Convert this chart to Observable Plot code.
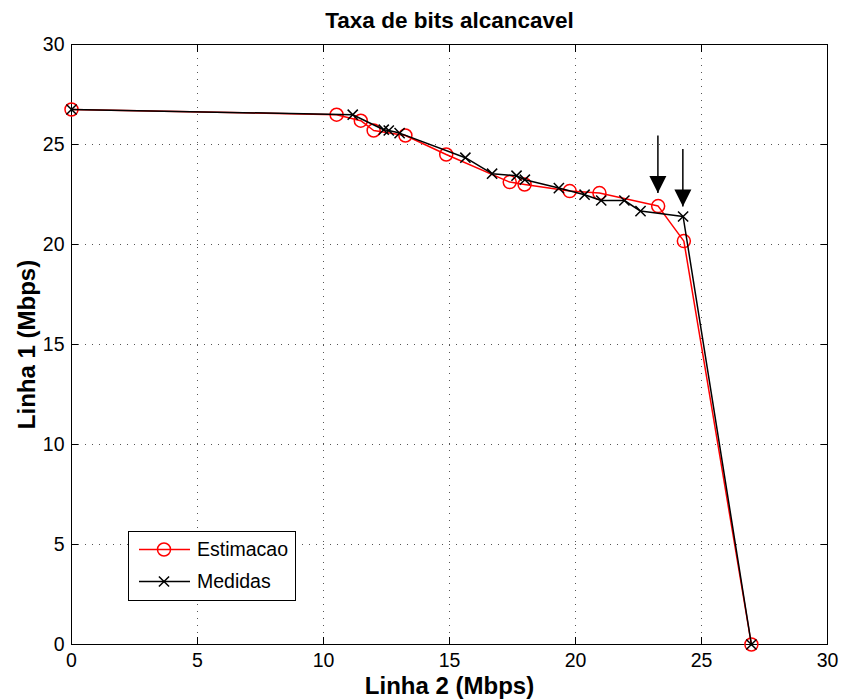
<!DOCTYPE html>
<html><head><meta charset="utf-8">
<script src="https://cdn.jsdelivr.net/npm/d3@7"></script>
<script src="https://cdn.jsdelivr.net/npm/@observablehq/plot@0.6"></script>
<style>
body{margin:0;background:#fff;}
#chart{position:relative;width:843px;height:700px;font-family:"Liberation Sans",Arial,sans-serif;}
#legend{position:absolute;left:128px;top:531px;}
</style>
</head><body><div id="chart"></div>
<script>
const title = "Taxa de bits alcancavel";
const xLabel = "Linha 2 (Mbps)";
const yLabel = "Linha 1 (Mbps)";
const seriesNames = ["Estimacao", "Medidas"];
const estX = [0, 10.52, 11.48, 11.99, 13.25, 14.87, 17.39, 17.98, 19.77, 20.95, 23.28, 24.30, 26.98];
const estY = [26.75, 26.49, 26.19, 25.70, 25.45, 24.50, 23.12, 23.00, 22.67, 22.57, 21.92, 20.17, 0];
const medX = [0, 11.16, 12.39, 12.59, 13.02, 15.63, 16.69, 17.66, 17.99, 19.34, 20.36, 21.02, 21.94, 22.58, 24.27, 26.98];
const medY = [26.75, 26.49, 25.74, 25.70, 25.57, 24.34, 23.54, 23.44, 23.24, 22.82, 22.49, 22.20, 22.20, 21.67, 21.40, 0];
const arrowX = [23.27, 24.26];
const arrowTop = [25.45, 24.78];
const arrowTip = [22.57, 21.90];
const xTicks = [0, 5, 10, 15, 20, 25, 30];
const yTicks = [0, 5, 10, 15, 20, 25, 30];

const est = estX.map((x, i) => ({x, y: estY[i]}));
const med = medX.map((x, i) => ({x, y: medY[i]}));
const arrows = arrowX.map((x, i) => ({x, y1: arrowTop[i], y2: arrowTip[i]}));

const arrowHead = {
  draw(ctx) {
    ctx.moveTo(0, 0);
    ctx.lineTo(-8.5, -17);
    ctx.lineTo(8.5, -17);
    ctx.closePath();
  }
};

const FONT = "'Liberation Sans', Arial, Helvetica, sans-serif";
const chart = Plot.plot({
  width: 843,
  height: 700,
  marginLeft: 71,
  marginRight: 16,
  marginTop: 44,
  marginBottom: 56,
  style: {fontFamily: FONT, fontSize: "19.5px", color: "#000", background: "#fff", overflow: "visible"},
  x: {domain: [0, 30]},
  y: {domain: [0, 30]},
  marks: [
    Plot.gridX(xTicks.slice(1, -1), {stroke: "#555", strokeOpacity: 1, strokeDasharray: "1,6"}),
    Plot.gridY(yTicks.slice(1, -1), {stroke: "#555", strokeOpacity: 1, strokeDasharray: "1,6"}),
    Plot.axisX(xTicks, {anchor: "bottom", tickSize: 0, tickPadding: 9, label: null, fontSize: 19.5}),
    Plot.axisY(yTicks, {anchor: "left", tickSize: 0, tickPadding: 7, label: null, fontSize: 19.5}),
    Plot.axisX(xTicks, {anchor: "bottom", tickSize: -7, tickFormat: () => "", label: null}),
    Plot.axisX(xTicks, {anchor: "top", tickSize: -7, tickFormat: () => "", label: null}),
    Plot.axisY(yTicks, {anchor: "left", tickSize: -7, tickFormat: () => "", label: null}),
    Plot.axisY(yTicks, {anchor: "right", tickSize: -7, tickFormat: () => "", label: null}),
    Plot.frame({stroke: "#000", strokeWidth: 1}),
    Plot.line(est, {x: "x", y: "y", stroke: "#ff0000", strokeWidth: 1.5}),
    Plot.dot(est, {x: "x", y: "y", r: 6.5, stroke: "#ff0000", strokeWidth: 1.5, fill: "none"}),
    Plot.line(med, {x: "x", y: "y", stroke: "#000", strokeWidth: 1.5}),
    Plot.dot(med, {x: "x", y: "y", r: 4.7, symbol: "times", stroke: "#000", strokeWidth: 1.5}),
    Plot.link(arrows, {x1: "x", x2: "x", y1: "y1", y2: "y2", stroke: "#000", strokeWidth: 1.5}),
    Plot.dot(arrows, {x: "x", y: "y2", symbol: arrowHead, fill: "#000", stroke: "none", r: 5}),
    Plot.text([title], {frameAnchor: "top", lineAnchor: "middle", textAnchor: "middle", dy: -24, fontWeight: "bold", fontSize: 22.5}),
    Plot.text([xLabel], {frameAnchor: "bottom", lineAnchor: "middle", textAnchor: "middle", dy: 42, fontWeight: "bold", fontSize: 24}),
    Plot.text([yLabel], {frameAnchor: "left", lineAnchor: "middle", textAnchor: "middle", dx: -44, rotate: -90, fontWeight: "bold", fontSize: 24})
  ]
});
document.getElementById("chart").appendChild(chart);

// Legend
const colors = ["#ff0000", "#000"];
const lw = 168, lh = 70;
const leg = d3.select("#chart").append("svg")
  .attr("id", "legend").attr("width", lw).attr("height", lh)
  .style("overflow", "visible");
leg.append("rect").attr("x", 0.5).attr("y", 0.5).attr("width", lw - 1).attr("height", lh - 1)
  .attr("fill", "#fff").attr("stroke", "#000").attr("stroke-width", 1);
seriesNames.forEach((name, i) => {
  const cy = 18.5 + i * 32;
  const g = leg.append("g");
  g.append("line").attr("x1", 11).attr("x2", 62).attr("y1", cy).attr("y2", cy)
    .attr("stroke", colors[i]).attr("stroke-width", 1.5);
  if (i === 0) {
    g.append("circle").attr("cx", 36).attr("cy", cy).attr("r", 6.5)
      .attr("fill", "none").attr("stroke", colors[i]).attr("stroke-width", 1.5);
  } else {
    g.append("path").attr("d", d3.symbol(d3.symbolTimes, Math.PI * 4.7 * 4.7)())
      .attr("transform", `translate(36,${cy})`).attr("fill", "none")
      .attr("stroke", colors[i]).attr("stroke-width", 1.5);
  }
  g.append("text").attr("x", 69).attr("y", cy).attr("dy", "0.35em")
    .attr("font-family", FONT).attr("font-size", 19.5).attr("fill", "#000").text(name);
});
</script>
</body></html>
